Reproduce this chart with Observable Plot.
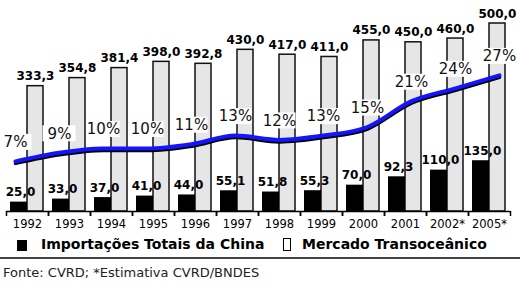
<!DOCTYPE html>
<html>
<head>
<meta charset="utf-8">
<script src="https://cdn.jsdelivr.net/npm/d3@7"></script>
<script src="https://cdn.jsdelivr.net/npm/@observablehq/plot@0.6"></script>
<style>
  html, body { margin: 0; padding: 0; background: #fff; }
  body { width: 520px; height: 284px; overflow: hidden; font-family: "DejaVu Sans", Verdana, sans-serif; }
  #chart { position: relative; width: 520px; height: 232px; }
  #chart svg { position: absolute; left: 0; top: 0; overflow: visible; background: transparent; }
  #legend { position: relative; width: 520px; height: 25px; font-weight: bold; font-size: 14px; color: #000; }
  #legend .sw1 { position: absolute; left: 17px; top: 8px; width: 10px; height: 11px; background: #000; }
  #legend .sw2 { position: absolute; left: 283px; top: 6px; width: 6px; height: 11px; border: 1.5px solid #000; background: #fff; }
  #legend .t1 { position: absolute; left: 41px; top: 4px; }
  #legend .t2 { position: absolute; left: 302px; top: 4px; }
  #sep { width: 520px; height: 2px; background: #444; }
  #source { font-size: 13px; color: #222; padding-left: 3px; padding-top: 6px; }
</style>
</head>
<body>
<div id="chart"></div>
<div id="legend">
  <div class="sw1"></div><span class="t1">Importações Totais da China</span>
  <div class="sw2"></div><span class="t2">Mercado Transoceânico</span>
</div>
<div id="sep"></div>
<div id="source">Fonte: CVRD; *Estimativa CVRD/BNDES</div>
<script>
const years = ["1992","1993","1994","1995","1996","1997","1998","1999","2000","2001","2002*","2005*"];
const chinaImports = [25.0, 33.0, 37.0, 41.0, 44.0, 55.1, 51.8, 55.3, 70.0, 92.3, 110.0, 135.0];
const transoceanic = [333.3, 354.8, 381.4, 398.0, 392.8, 430.0, 417.0, 411.0, 455.0, 450.0, 460.0, 500.0];
const sharePct = [7, 9, 10, 10, 11, 13, 12, 13, 15, 21, 24, 27];

const data = years.map((year, i) => ({
  year,
  china: chinaImports[i],
  ocean: transoceanic[i],
  pct: sharePct[i]
}));

const fmt = v => v.toFixed(1).replace(".", ",");
const font = "DejaVu Sans, Verdana, sans-serif";

const main = Plot.plot({
  width: 520,
  height: 232,
  marginLeft: 6,
  marginRight: 10,
  marginTop: 23,
  marginBottom: 21,
  style: {fontFamily: font, background: "transparent", overflow: "visible"},
  x: {domain: years, padding: 0, axis: null, label: null},
  y: {domain: [0, 500], axis: null, label: null},
  marks: [
    Plot.barY(data, {x: "year", y: "ocean", fill: "#e6e6e6", stroke: "#111", strokeWidth: 1.5, insetLeft: 21, insetRight: 5}),
    Plot.barY(data, {x: "year", y: "china", fill: "#000", insetLeft: 4, insetRight: 21}),
    Plot.ruleY([0], {stroke: "#000", strokeWidth: 1.5}),
    Plot.axisX({tickSize: 5, tickFormat: () => "", label: null, dx: -21, stroke: "#000", strokeWidth: 1.5}),
    Plot.axisX({tickSize: 5, tickFormat: () => "", label: null, dx: 21, stroke: "#000", strokeWidth: 1.5}),
    Plot.axisX({tickSize: 0, tickPadding: 8, label: null, fontSize: 11.5, fill: "#000"}),
    Plot.text(data, {x: "year", y: "ocean", text: d => fmt(d.ocean), dx: 8, dy: -6, lineAnchor: "bottom", fontWeight: "bold", fontSize: 12, fill: "#000"}),
    Plot.text(data, {x: "year", y: "china", text: d => fmt(d.china), dx: -7, dy: -6, lineAnchor: "bottom", fontWeight: "bold", fontSize: 12, fill: "#000"})
  ]
});

const overlay = Plot.plot({
  width: 520,
  height: 232,
  margin: 0,
  style: {fontFamily: font, background: "transparent", overflow: "visible"},
  x: {type: "band", domain: years, range: [-11.36, 525.36], padding: 0, axis: null, label: null},
  y: {domain: [0, 30], range: [191, 62], axis: null, label: null},
  marks: [
    Plot.line(data, {x: "year", y: "pct", stroke: "#000", strokeWidth: 3.5, dy: 2, curve: "monotone-x"}),
    Plot.line(data, {x: "year", y: "pct", stroke: "#1414ff", strokeWidth: 4, curve: "monotone-x"}),
    Plot.barY(data, {x: "year", y1: "pct", y2: "pct", fill: "#fff", insetLeft: 5.5, insetRight: 5.5, insetTop: -8, insetBottom: -8, dy: -19}),
    Plot.text(data, {x: "year", y: "pct", text: d => d.pct + "%", dy: -19, fontSize: 15, fill: "#111"})
  ]
});

const chart = document.getElementById("chart");
chart.appendChild(main);
chart.appendChild(overlay);
</script>
</body>
</html>
